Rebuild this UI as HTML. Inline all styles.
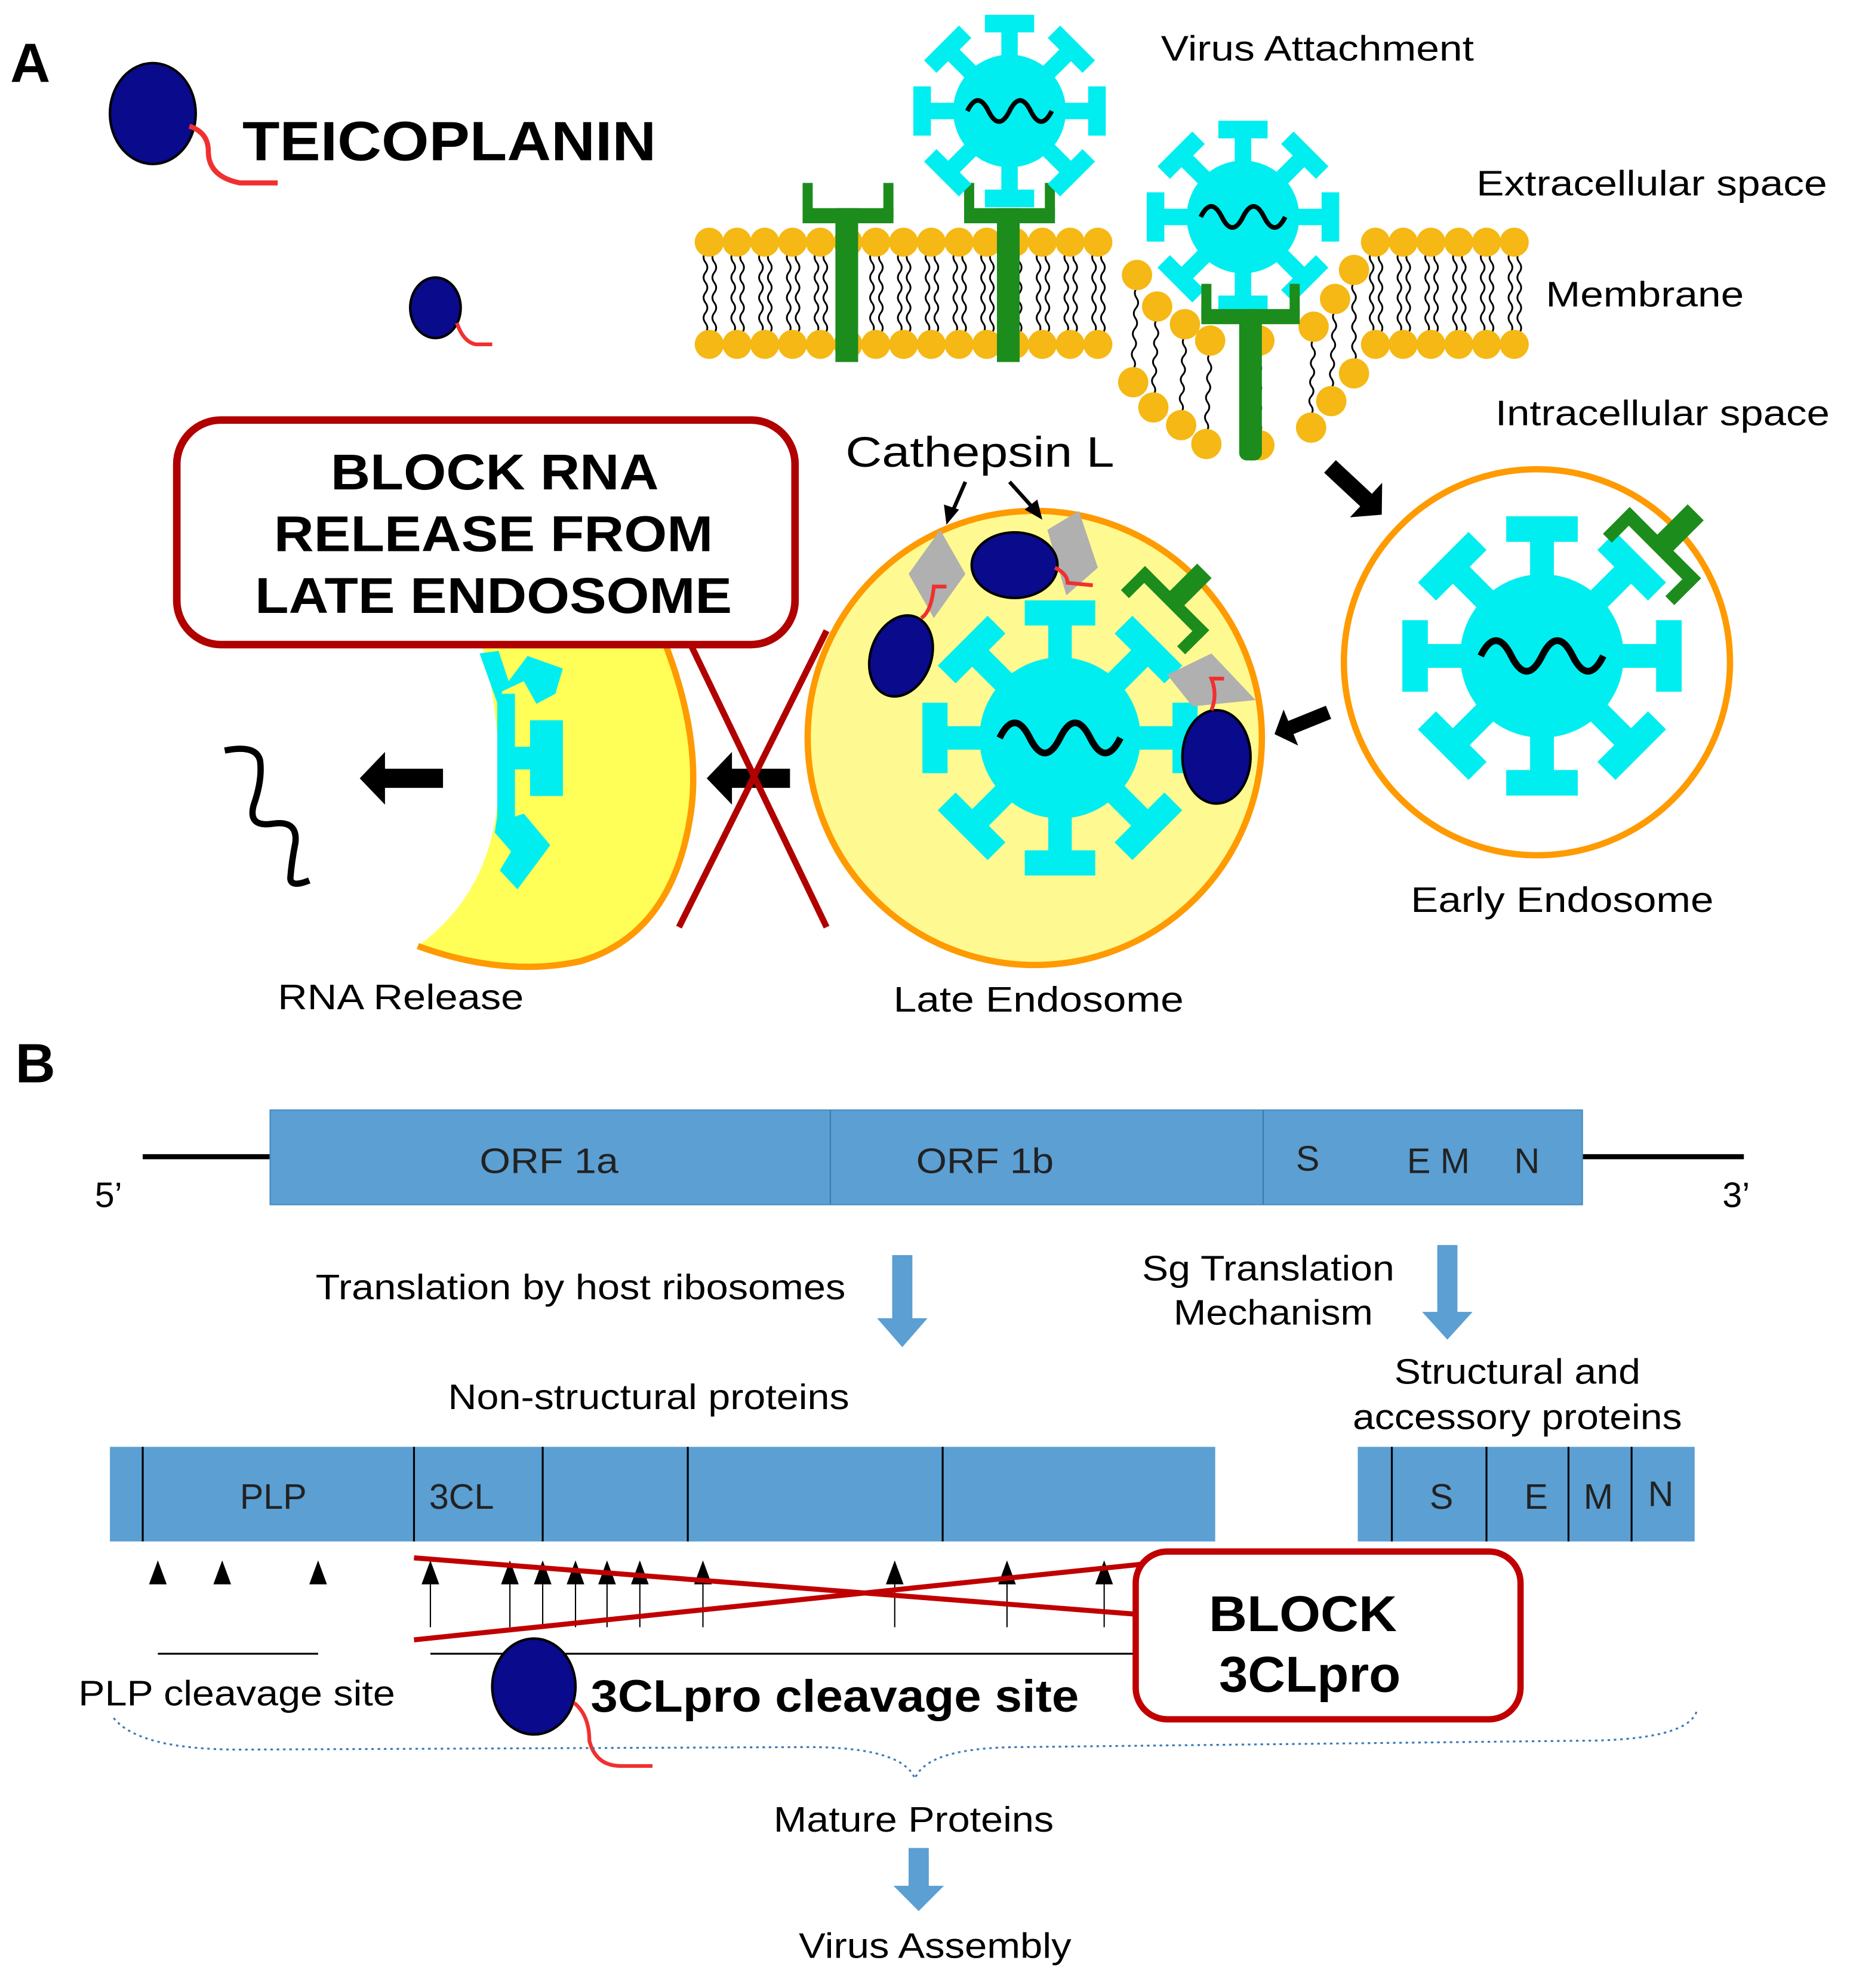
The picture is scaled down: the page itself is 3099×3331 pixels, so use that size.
<!DOCTYPE html>
<html><head><meta charset="utf-8"><style>
html,body{margin:0;padding:0;background:#fff}
svg{display:block}
text{font-family:"Liberation Sans",sans-serif}
</style></head><body>
<svg id="s" width="3099" height="3331" viewBox="0 0 1466 1576" xmlns="http://www.w3.org/2000/svg">
<defs>
<g id="vir">
  <g id="spk" fill="#00eef0"><rect x="-7" y="-68" width="14" height="28"/><rect x="-21" y="-82" width="42" height="15"/></g>
  <use href="#spk" transform="rotate(45)"/><use href="#spk" transform="rotate(90)"/><use href="#spk" transform="rotate(135)"/>
  <use href="#spk" transform="rotate(180)"/><use href="#spk" transform="rotate(225)"/><use href="#spk" transform="rotate(270)"/><use href="#spk" transform="rotate(315)"/>
  <circle r="48" fill="#00eef0"/>
  <path d="M-36,0 q9,-18 18,0 t18,0 t18,0 t18,0" fill="none" stroke="#000" stroke-width="4"/>
</g>
<path id="arr" d="M0,0 L20,-22 L20,-8 L66,-8 L66,8 L20,8 L20,22 Z" fill="#000"/>
<g id="rec" fill="#1c8c1c"><rect x="-9" y="-62" width="18" height="40"/><rect x="-40" y="-28" width="80" height="11"/><rect x="-40" y="-28" width="10" height="30"/><rect x="30" y="-28" width="10" height="30"/></g>
</defs>
<rect width="1466" height="1576" fill="#fff"/>
<g id="lip"></g>
<text x="8" y="65" font-size="44" font-weight="bold">A</text>
<ellipse cx="121" cy="90" rx="34" ry="40" fill="#0a0a8c" stroke="#000" stroke-width="2"/>
<path d="M150,100 q15,5 15,20 q0,20 25,25 l30,0" fill="none" stroke="#f03030" stroke-width="4"/>
<text x="192" y="127" font-size="44" font-weight="bold" textLength="328" lengthAdjust="spacingAndGlyphs">TEICOPLANIN</text>
<ellipse cx="345" cy="244" rx="20" ry="24" fill="#0a0a8c" stroke="#000" stroke-width="2"/>
<path d="M362,256 q5,15 15,17 l13,0" fill="none" stroke="#f03030" stroke-width="3"/>

<!-- receptors -->
<g fill="#1c8c1c">
<rect x="662" y="165" width="18" height="122"/><rect x="636" y="165" width="72" height="12"/><rect x="636" y="145" width="8" height="28"/><rect x="700" y="145" width="8" height="28"/>
<rect x="790" y="165" width="18" height="122"/><rect x="764" y="165" width="72" height="12"/><rect x="764" y="145" width="8" height="28"/><rect x="828" y="145" width="8" height="28"/>
</g>
<use href="#vir" transform="translate(800,88) scale(0.93)"/>
<use href="#vir" transform="translate(985,172) scale(0.93)"/>
<g fill="#1c8c1c"><rect x="982" y="245" width="18" height="120" rx="6"/><rect x="952" y="245" width="78" height="12"/><rect x="952" y="225" width="8" height="28"/><rect x="1022" y="225" width="8" height="28"/></g>
<text x="920" y="48" font-size="28" textLength="248" lengthAdjust="spacingAndGlyphs">Virus Attachment</text>
<text x="1170" y="155" font-size="28" textLength="278" lengthAdjust="spacingAndGlyphs">Extracellular space</text>
<text x="1225" y="243" font-size="28" textLength="157" lengthAdjust="spacingAndGlyphs">Membrane</text>
<text x="1185" y="337" font-size="28" textLength="265" lengthAdjust="spacingAndGlyphs">Intracellular space</text>
<use href="#arr" transform="translate(1095,408) rotate(223) scale(0.85)"/>

<!-- early endosome -->
<circle cx="1218" cy="525" r="153" fill="#fff" stroke="#ff9a00" stroke-width="5"/>
<use href="#vir" transform="translate(1222,520) scale(1.35)"/>
<use href="#rec" transform="translate(1300,450) rotate(45)"/>
<text x="1118" y="723" font-size="28" textLength="240" lengthAdjust="spacingAndGlyphs">Early Endosome</text>
<use href="#arr" transform="translate(1010,582) rotate(-22) scale(0.7)"/>

<!-- crescent -->
<path d="M331,750 Q400,700 395,600 Q392,540 378,500 L525,500 Q555,580 548,640 Q535,740 460,762 Q400,775 331,750 Z" fill="#ffff58"/>
<path d="M525,505 Q555,580 548,640 Q535,740 460,762 Q400,775 331,750" fill="none" stroke="#ff9a00" stroke-width="5"/>
<g fill="#00eef0">
<polygon points="380,518 395,516 403,540 418,520 446,530 440,550 425,558 415,540 398,548 395,560"/>
<rect x="394" y="550" width="14" height="100"/>
<rect x="420" y="571" width="26" height="60"/><rect x="406" y="592" width="20" height="18"/>
<polygon points="395,640 405,640 400,650 415,645 436,670 410,705 396,690 405,675 392,660"/>
</g>
<!-- late endosome -->
<circle cx="820" cy="585" r="180" fill="#fff991" stroke="#ff9a00" stroke-width="5"/>
<use href="#vir" transform="translate(840,585) scale(1.33)"/>
<use href="#rec" transform="translate(915,492) rotate(45) scale(0.9)"/>
<g fill="#b0b0b0"><polygon points="720,455 745,420 765,455 740,490"/><polygon points="830,420 855,405 870,450 845,472"/><polygon points="925,535 960,518 995,555 945,560"/></g>
<ellipse cx="804" cy="448" rx="34" ry="26" fill="#0a0a8c" stroke="#000" stroke-width="2"/>
<path d="M836,450 q10,5 10,12 l20,2" fill="none" stroke="#f03030" stroke-width="3"/>
<ellipse cx="714" cy="520" rx="24" ry="33" fill="#0a0a8c" stroke="#000" stroke-width="2" transform="rotate(20 714 520)"/>
<path d="M730,490 q8,-5 10,-25 l10,0" fill="none" stroke="#f03030" stroke-width="3"/>
<ellipse cx="964" cy="600" rx="27" ry="37" fill="#0a0a8c" stroke="#000" stroke-width="2"/>
<path d="M960,563 q5,-12 0,-25 l10,0" fill="none" stroke="#f03030" stroke-width="3"/>
<text x="670" y="370" font-size="34" textLength="213" lengthAdjust="spacingAndGlyphs">Cathepsin L</text>
<line x1="765" y1="382" x2="755" y2="405" stroke="#000" stroke-width="3"/><polygon points="750,416 748,400 760,404" fill="#000"/>
<line x1="800" y1="382" x2="818" y2="402" stroke="#000" stroke-width="3"/><polygon points="826,412 812,404 822,396" fill="#000"/>
<text x="708" y="802" font-size="28" textLength="230" lengthAdjust="spacingAndGlyphs">Late Endosome</text>
<!-- X and arrows -->
<use href="#arr" transform="translate(560,617) scale(1,0.95)"/>
<line x1="542" y1="500" x2="655" y2="735" stroke="#b00000" stroke-width="5"/>
<line x1="655" y1="500" x2="538" y2="735" stroke="#b00000" stroke-width="5"/>
<use href="#arr" transform="translate(285,617) scale(1,0.95)"/>
<path d="M178,595 q25,-5 28,8 q2,15 -5,35 q-5,18 15,15 q20,-3 18,15 q-3,15 -4,28 q0,8 15,2" fill="none" stroke="#000" stroke-width="5"/>
<text x="220" y="800" font-size="28" textLength="195" lengthAdjust="spacingAndGlyphs">RNA Release</text>
<rect x="140" y="333" width="490" height="178" rx="35" fill="#fff" stroke="#b00000" stroke-width="6"/>
<g font-size="40" font-weight="bold"><text x="262" y="388" textLength="260" lengthAdjust="spacingAndGlyphs">BLOCK RNA</text><text x="217" y="437" textLength="348" lengthAdjust="spacingAndGlyphs">RELEASE FROM</text><text x="202" y="486" textLength="378" lengthAdjust="spacingAndGlyphs">LATE ENDOSOME</text></g>

<!-- B -->
<text x="12" y="858" font-size="44" font-weight="bold">B</text>
<line x1="113" y1="917" x2="1382" y2="917" stroke="#000" stroke-width="4"/>
<rect x="214" y="880" width="1040" height="75" fill="#5b9fd3" stroke="#4a8cc0"/>
<line x1="658" y1="880" x2="658" y2="955" stroke="#3e7aa8"/><line x1="1001" y1="880" x2="1001" y2="955" stroke="#3e7aa8"/>
<g font-size="28" fill="#222"><text x="380" y="930" textLength="110" lengthAdjust="spacingAndGlyphs">ORF 1a</text><text x="726" y="930" textLength="109" lengthAdjust="spacingAndGlyphs">ORF 1b</text><text x="1027" y="928">S</text><text x="1115" y="930">E M</text><text x="1200" y="930">N</text></g>
<text x="75" y="957" font-size="28">5’</text><text x="1365" y="957" font-size="28">3’</text>
<g font-size="28">
<text x="250" y="1030" textLength="420" lengthAdjust="spacingAndGlyphs">Translation by host ribosomes</text>
<text x="905" y="1015" textLength="200" lengthAdjust="spacingAndGlyphs">Sg Translation</text><text x="930" y="1050" textLength="158" lengthAdjust="spacingAndGlyphs">Mechanism</text>
<text x="355" y="1117" textLength="318" lengthAdjust="spacingAndGlyphs">Non-structural proteins</text>
<text x="1105" y="1097" textLength="195" lengthAdjust="spacingAndGlyphs">Structural and</text><text x="1072" y="1133" textLength="261" lengthAdjust="spacingAndGlyphs">accessory proteins</text>
</g>
<g fill="#5b9fd3"><polygon points="707,995 723,995 723,1045 735,1045 715,1068 695,1045 707,1045"/>
<polygon points="1139,987 1155,987 1155,1040 1167,1040 1147,1062 1127,1040 1139,1040"/>
<polygon points="720,1465 736,1465 736,1495 748,1495 728,1515 708,1495 720,1495"/></g>
<rect x="87" y="1147" width="876" height="75" fill="#5b9fd3"/>
<rect x="1076" y="1147" width="267" height="75" fill="#5b9fd3"/>
<g stroke="#000" stroke-width="1.5"><line x1="113" y1="1147" x2="113" y2="1222"/><line x1="328" y1="1147" x2="328" y2="1222"/><line x1="430" y1="1147" x2="430" y2="1222"/><line x1="545" y1="1147" x2="545" y2="1222"/><line x1="747" y1="1147" x2="747" y2="1222"/>
<line x1="1103" y1="1147" x2="1103" y2="1222"/><line x1="1178" y1="1147" x2="1178" y2="1222"/><line x1="1243" y1="1147" x2="1243" y2="1222"/><line x1="1293" y1="1147" x2="1293" y2="1222"/></g>
<g font-size="28" fill="#222"><text x="190" y="1196">PLP</text><text x="340" y="1196">3CL</text><text x="1133" y="1196">S</text><text x="1208" y="1196">E</text><text x="1255" y="1196">M</text><text x="1306" y="1194">N</text></g>
<g id="tri"></g>
<line x1="125" y1="1311" x2="252" y2="1311" stroke="#000" stroke-width="1.5"/>
<line x1="341" y1="1311" x2="900" y2="1311" stroke="#000" stroke-width="1.5"/>
<line x1="328" y1="1235" x2="905" y2="1280" stroke="#c00000" stroke-width="4"/>
<line x1="328" y1="1300" x2="905" y2="1240" stroke="#c00000" stroke-width="4"/>
<text x="62" y="1352" font-size="28" textLength="251" lengthAdjust="spacingAndGlyphs">PLP cleavage site</text>
<text x="468" y="1357" font-size="36" font-weight="bold" textLength="387" lengthAdjust="spacingAndGlyphs">3CLpro cleavage site</text>
<ellipse cx="423" cy="1337" rx="33" ry="38" fill="#0a0a8c" stroke="#000" stroke-width="2"/>
<path d="M455,1350 q12,10 12,30 q5,20 25,20 l25,0" fill="none" stroke="#f03030" stroke-width="3"/>
<path d="M90,1362 q20,25 100,25 L640,1385 q75,0 85,25 q10,-25 85,-25 L1250,1380 q90,0 95,-25" fill="none" stroke="#3a7ab8" stroke-width="1.5" stroke-dasharray="2,3"/>
<rect x="900" y="1230" width="305" height="133" rx="25" fill="#fff" stroke="#c00000" stroke-width="5"/>
<g font-size="40" font-weight="bold"><text x="958" y="1293" textLength="149" lengthAdjust="spacingAndGlyphs">BLOCK</text><text x="966" y="1341" textLength="144" lengthAdjust="spacingAndGlyphs">3CLpro</text></g>
<text x="613" y="1452" font-size="28" textLength="222" lengthAdjust="spacingAndGlyphs">Mature Proteins</text>
<text x="633" y="1552" font-size="28" textLength="216" lengthAdjust="spacingAndGlyphs">Virus Assembly</text>
</svg>
<script>
var NS="http://www.w3.org/2000/svg";
function el(p,t,a){var e=document.createElementNS(NS,t);for(var k in a)e.setAttribute(k,a[k]);p.appendChild(e);return e;}
var lip=document.getElementById("lip");
function wav(x1,y1,x2,y2){var n=8,d="M"+x1+","+y1,dx=(x2-x1)/n,dy=(y2-y1)/n,L=Math.hypot(dx,dy),px=-dy/L*3,py=dx/L*3;
 for(var i=0;i<n;i++){var s=(i%2?-1:1);d+=" q"+(dx/2+px*s).toFixed(1)+","+(dy/2+py*s).toFixed(1)+" "+dx.toFixed(1)+","+dy.toFixed(1);}
 el(lip,"path",{d:d,fill:"none",stroke:"#000","stroke-width":1.4});}
function seg(a,b){for(var x=a;x<=b;x+=22){wav(x-3,200,x-3,264);wav(x+4,200,x+4,264);}
 for(var x=a;x<=b;x+=22){el(lip,"circle",{cx:x,cy:192,r:11.5,fill:"#f5b814"});el(lip,"circle",{cx:x,cy:273,r:11.5,fill:"#f5b814"});}}
seg(562,870);seg(1090,1212);
var inn=[[901,218],[917,243],[939,257],[959,270],[998,270],[1041,259],[1058,237],[1073,214]];
var out=[[898,303],[914,323],[936,337],[956,352],[998,353],[1039,339],[1055,318],[1073,296]];
for(var i=0;i<inn.length;i++){wav(inn[i][0],inn[i][1]+10,out[i][0],out[i][1]-10);}
inn.concat(out).forEach(function(p){el(lip,"circle",{cx:p[0],cy:p[1],r:12,fill:"#f5b814"});});
var tri=document.getElementById("tri");
[125,176,252,341,404,430,456,481,507,557,709,798,875].forEach(function(x){
 el(tri,"polygon",{points:(x-7)+",1256 "+(x+7)+",1256 "+x+",1237",fill:"#000"});
 if(x>300) el(tri,"line",{x1:x,y1:1256,x2:x,y2:1290,stroke:"#000","stroke-width":1});});
</script>
</body></html>
